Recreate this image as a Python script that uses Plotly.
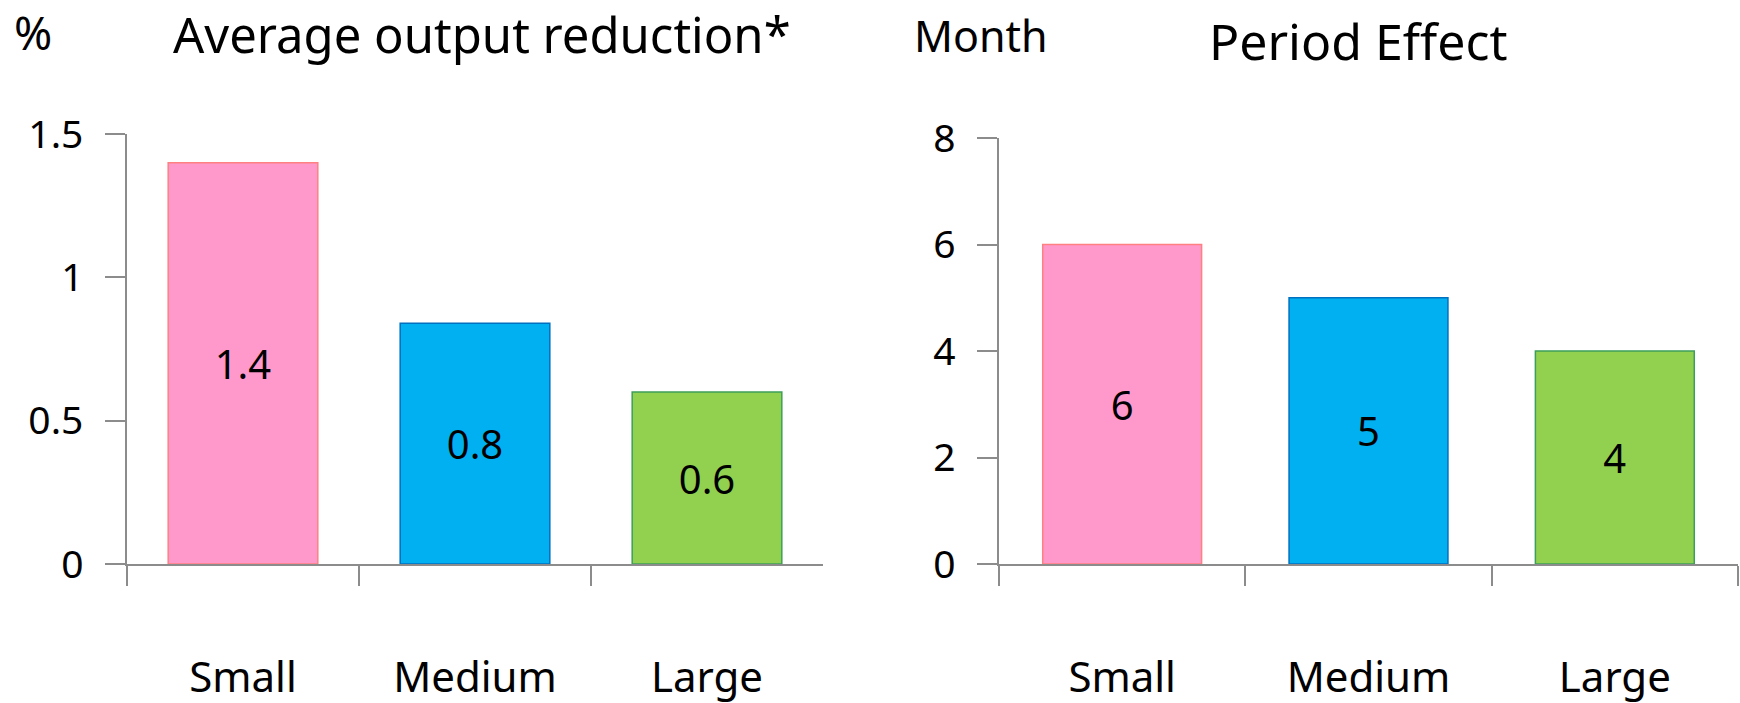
import plotly.graph_objects as go

W, H = 1740, 703

categories = ["Small", "Medium", "Large"]
output_reduction = [1.4, 0.84, 0.6]
period_effect = [6, 5, 4]
left_ticks = [0, 0.5, 1, 1.5]
left_ticktext = ["0", "0.5", "1", "1.5"]
right_ticks = [0, 2, 4, 6, 8]
right_ticktext = ["0", "2", "4", "6", "8"]

fill_colors = ["#FF99CC", "#00B0F0", "#92D050"]
line_colors = ["#FF8080", "#0070C0", "#3C9E5A"]

FONT = "Noto Sans"


def px_x(x):
    return x / W


def px_y(y):
    return 1 - y / H


fig = go.Figure()

fig.add_trace(go.Bar(
    x=categories, y=output_reduction, xaxis="x", yaxis="y",
    marker=dict(color=fill_colors, line=dict(color=line_colors, width=1.5)),
    width=0.645,
    texttemplate="%{y:.1f}", textposition="inside", insidetextanchor="middle",
    textfont=dict(family=FONT, size=40, color="black"),
    hoverinfo="skip", showlegend=False,
))
fig.add_trace(go.Bar(
    x=categories, y=period_effect, xaxis="x2", yaxis="y2",
    marker=dict(color=fill_colors, line=dict(color=line_colors, width=1.5)),
    width=0.645,
    texttemplate="%{y}", textposition="inside", insidetextanchor="middle",
    textfont=dict(family=FONT, size=40, color="black"),
    hoverinfo="skip", showlegend=False,
))

axis_common = dict(
    showgrid=False, zeroline=False, showline=True, linecolor="#8C8C8C",
    linewidth=1.5, ticks="outside", ticklen=20, tickwidth=1.5,
    tickcolor="#8C8C8C", automargin=False,
)
xfont = dict(family=FONT, size=42, color="black")
yfont = dict(family=FONT, size=39, color="black")

fig.update_layout(
    width=W, height=H,
    margin=dict(l=0, r=0, t=0, b=0, pad=0),
    paper_bgcolor="white", plot_bgcolor="white",
    xaxis=dict(domain=[px_x(127), px_x(823)], anchor="y", type="category",
               tickson="boundaries", ticklabelstandoff=76, tickfont=xfont,
               **axis_common),
    yaxis=dict(domain=[px_y(564), px_y(134)], anchor="x", range=[0, 1.5],
               tickvals=left_ticks, ticktext=left_ticktext,
               ticklabelstandoff=14, tickfont=yfont, **axis_common),
    xaxis2=dict(domain=[px_x(999), px_x(1738)], anchor="y2", type="category",
                tickson="boundaries", ticklabelstandoff=76, tickfont=xfont,
                **axis_common),
    yaxis2=dict(domain=[px_y(564), px_y(138)], anchor="x2", range=[0, 8],
                tickvals=right_ticks, ticktext=right_ticktext,
                ticklabelstandoff=14, tickfont=yfont, **axis_common),
    annotations=[
        dict(text="%", x=px_x(12), y=px_y(32), xref="paper", yref="paper",
             xanchor="left", yanchor="middle", showarrow=False,
             font=dict(family=FONT, size=46, color="black")),
        dict(text="Average output reduction*", x=px_x(482), y=px_y(34),
             xref="paper", yref="paper", xanchor="center", yanchor="middle",
             showarrow=False, font=dict(family=FONT, size=49, color="black")),
        dict(text="Month", x=px_x(912), y=px_y(35), xref="paper", yref="paper",
             xanchor="left", yanchor="middle", showarrow=False,
             font=dict(family=FONT, size=43, color="black")),
        dict(text="Period Effect", x=px_x(1358), y=px_y(41), xref="paper",
             yref="paper", xanchor="center", yanchor="middle", showarrow=False,
             font=dict(family=FONT, size=50, color="black")),
    ],
)

fig.write_html("out.html")
